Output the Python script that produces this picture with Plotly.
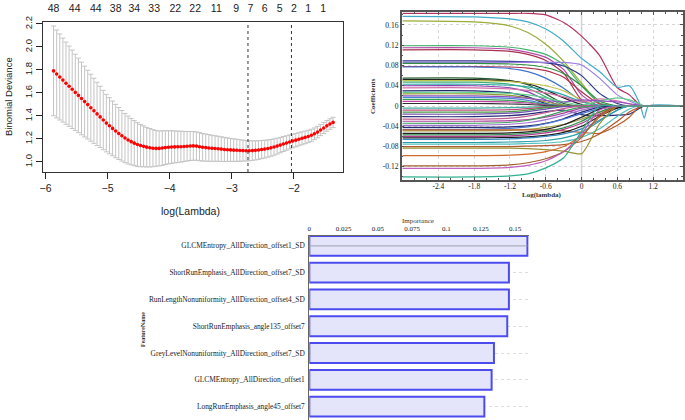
import plotly.graph_objects as go

W, H = 685, 420
def PX(x): return x / W
def PY(y): return 1 - y / H

# ---------------- Panel A: cross-validation curve ----------------
log_lambda = [-5.87,-5.82,-5.77,-5.72,-5.67,-5.62,-5.57,-5.52,-5.47,-5.42,
              -5.37,-5.32,-5.27,-5.22,-5.17,-5.12,-5.07,-5.02,-4.97,-4.92,
              -4.87,-4.82,-4.77,-4.72,-4.67,-4.62,-4.57,-4.52,-4.47,-4.42,
              -4.37,-4.32,-4.27,-4.22,-4.17,-4.12,-4.07,-4.02,-3.97,-3.92,
              -3.87,-3.82,-3.77,-3.72,-3.67,-3.62,-3.57,-3.52,-3.47,-3.42,
              -3.37,-3.32,-3.27,-3.22,-3.17,-3.12,-3.07,-3.02,-2.97,-2.92,
              -2.87,-2.82,-2.77,-2.72,-2.67,-2.62,-2.57,-2.52,-2.47,-2.42,
              -2.37,-2.32,-2.27,-2.22,-2.17,-2.12,-2.07,-2.02,-1.97,-1.92,
              -1.87,-1.82,-1.77,-1.72,-1.67,-1.62,-1.57,-1.52,-1.47,-1.42,-1.37]
deviance = [1.792,1.765,1.739,1.712,1.685,1.659,1.632,1.605,1.579,1.552,
            1.525,1.499,1.472,1.445,1.418,1.392,1.365,1.338,1.315,1.292,
            1.269,1.248,1.228,1.208,1.191,1.177,1.164,1.152,1.143,1.136,
            1.129,1.124,1.120,1.118,1.118,1.121,1.125,1.128,1.130,1.131,
            1.132,1.133,1.135,1.137,1.139,1.140,1.138,1.133,1.128,1.125,
            1.122,1.119,1.117,1.115,1.112,1.109,1.107,1.105,1.103,1.102,
            1.100,1.099,1.098,1.098,1.099,1.101,1.104,1.108,1.112,1.117,
            1.123,1.130,1.138,1.147,1.156,1.165,1.174,1.182,1.190,1.198,
            1.206,1.214,1.222,1.232,1.245,1.260,1.278,1.296,1.314,1.330,1.344]
dev_se = [0.390,0.382,0.374,0.365,0.357,0.349,0.341,0.332,0.324,0.316,
          0.308,0.299,0.291,0.283,0.275,0.266,0.258,0.250,0.244,0.238,
          0.232,0.226,0.220,0.214,0.208,0.202,0.196,0.190,0.184,0.178,
          0.172,0.167,0.161,0.155,0.152,0.150,0.147,0.144,0.142,0.139,
          0.136,0.134,0.131,0.128,0.126,0.125,0.123,0.122,0.120,0.118,
          0.116,0.113,0.111,0.109,0.107,0.105,0.102,0.100,0.098,0.096,
          0.094,0.091,0.089,0.087,0.085,0.083,0.081,0.079,0.077,0.075,
          0.073,0.071,0.069,0.067,0.065,0.063,0.061,0.059,0.058,0.057,
          0.056,0.055,0.054,0.053,0.051,0.050,0.049,0.048,0.047,0.046,0.045]
count_pos = [-5.87,-5.53,-5.19,-4.87,-4.57,-4.25,-3.91,-3.59,-3.25,-2.93,
             -2.70,-2.47,-2.23,-2.00,-1.77,-1.53]
count_txt = ["48","44","44","38","34","33","22","22","11","9","7","6","5","2","1","1"]
lambda_min = -2.74
lambda_1se = -2.04

# ---------------- Panel B: coefficient paths ----------------
coef_x = [-3.0,-1.8,-1.2,-0.9,-0.6,-0.3,0.0,0.3,0.6,0.8,0.98,1.05,1.12,1.7]
coef_pos = [
    [0.183,0.183,0.183,0.183,0.180,0.165,0.138,0.100,0.036,0.022,0.002,0,0,0],
    [0.177,0.176,0.172,0.166,0.152,0.128,0.094,0.068,0.037,0.040,0.003,-0.024,0,0],
    [0.168,0.166,0.158,0.145,0.122,0.088,0.045,0.005,0,0,0,0,0,0],
    [0.119,0.119,0.116,0.111,0.102,0.082,0.040,0.006,0,0,0,0,0,0],
    [0.115,0.115,0.112,0.106,0.096,0.072,0.022,0,0,0,0,0,0,0],
    [0.111,0.111,0.108,0.102,0.090,0.065,0.012,0,0,0,0,0,0,0],
    [0.089,0.089,0.088,0.087,0.085,0.079,0.060,0.025,0.005,0,0,0,0,0],
    [0.086,0.086,0.086,0.086,0.086,0.086,0.081,0.055,0.022,0.010,0.002,0,0,0],
    [0.084,0.084,0.083,0.081,0.076,0.064,0.040,0.010,0,0,0,0,0,0],
    [0.078,0.078,0.077,0.075,0.070,0.057,0.028,0.004,0,0,0,0,0,0],
    [0.077,0.077,0.074,0.068,0.055,0.035,0.010,0,0,0,0,0,0,0],
    [0.055,0.055,0.050,0.042,0.024,0.005,0,0,0,0,0,0,0,0],
    [0.052,0.052,0.049,0.044,0.032,0.016,0.003,0,0,0,0,0,0,0],
    [0.050,0.050,0.048,0.045,0.040,0.030,0.012,0,0,0,0,0,0,0],
    [0.047,0.047,0.043,0.035,0.018,0.002,0,0,0,0,0,0,0,0],
    [0.043,0.043,0.041,0.038,0.032,0.022,0.008,0.002,0,0,0,0,0,0],
    [0.040,0.040,0.036,0.028,0.012,0,0,0,0,0,0,0,0,0],
    [0.036,0.036,0.034,0.031,0.026,0.018,0.008,0.014,0.010,0.004,0,0,0,0],
    [0.030,0.030,0.026,0.018,0.005,0,0,0,0,0,0,0,0,0],
    [0.027,0.027,0.025,0.022,0.016,0.008,0.002,0.010,0.016,0.012,0.004,0,0,0],
    [0.024,0.024,0.021,0.016,0.008,0.002,0,0,0,0,0,0,0,0],
    [0.020,0.020,0.018,0.015,0.011,0.008,0.012,0.010,0.008,0.005,0.001,0,0,0],
    [0.017,0.017,0.015,0.011,0.004,0,0,0,0,0,0,0,0,0],
    [0.013,0.013,0.011,0.008,0.003,0,0,0,0,0,0,0,0,0],
    [0.009,0.009,0.008,0.006,0.002,0,0,0,0,0,0,0,0,0],
    [0.005,0.005,0.004,0.003,0.001,0,0,0,0,0,0,0,0,0],
]
coef_neg = [
    [-0.004,-0.004,-0.003,-0.002,-0.001,0,0,0,0,0,0,0,0,0],
    [-0.008,-0.008,-0.007,-0.005,-0.002,0,0,0,0,0,0,0,0,0],
    [-0.012,-0.012,-0.011,-0.008,-0.003,0,0,0,0,0,0,0,0,0],
    [-0.016,-0.016,-0.014,-0.011,-0.006,-0.001,0,0,0,0,0,0,0,0],
    [-0.021,-0.021,-0.019,-0.016,-0.011,-0.008,-0.017,-0.019,-0.018,-0.016,-0.004,0,0,0],
    [-0.026,-0.026,-0.024,-0.020,-0.013,-0.005,0,0,0,0,0,0,0,0],
    [-0.030,-0.030,-0.029,-0.027,-0.022,-0.014,-0.004,0,0,0,0,0,0,0],
    [-0.034,-0.034,-0.032,-0.028,-0.020,-0.010,-0.002,0,0,0,0,0,0,0],
    [-0.038,-0.038,-0.036,-0.033,-0.027,-0.018,-0.008,0,0,0,0,0,0,0],
    [-0.042,-0.042,-0.041,-0.039,-0.034,-0.025,-0.012,-0.002,0,0,0,0,0,0],
    [-0.046,-0.046,-0.044,-0.041,-0.035,-0.026,-0.015,-0.005,0,0,0,0,0,0],
    [-0.049,-0.049,-0.048,-0.046,-0.042,-0.036,-0.026,-0.012,-0.002,0,0,0,0,0],
    [-0.047,-0.047,-0.047,-0.047,-0.047,-0.049,-0.052,-0.054,-0.038,-0.022,0,0,0,0],
    [-0.054,-0.054,-0.053,-0.051,-0.046,-0.037,-0.022,-0.006,0,0,0,0,0,0],
    [-0.057,-0.057,-0.056,-0.054,-0.050,-0.043,-0.030,-0.012,0,0,0,0,0,0],
    [-0.060,-0.060,-0.059,-0.057,-0.053,-0.046,-0.034,-0.016,-0.003,0,0,0,0,0],
    [-0.063,-0.063,-0.062,-0.061,-0.058,-0.052,-0.040,-0.020,-0.004,0,0,0,0,0],
    [-0.066,-0.066,-0.065,-0.063,-0.060,-0.055,-0.045,-0.028,-0.008,0,0,0,0,0],
    [-0.072,-0.072,-0.071,-0.070,-0.068,-0.063,-0.052,-0.030,-0.008,0,0,0,0,0],
    [-0.075,-0.075,-0.075,-0.074,-0.073,-0.070,-0.062,-0.045,-0.020,-0.006,0,0,0,0],
    [-0.080,-0.080,-0.080,-0.079,-0.078,-0.076,-0.070,-0.055,-0.030,-0.012,-0.002,0,0,0],
    [-0.083,-0.083,-0.083,-0.084,-0.086,-0.089,-0.094,-0.035,0,0,0,0,0,0],
    [-0.098,-0.098,-0.097,-0.095,-0.090,-0.080,-0.058,-0.022,0,0,0,0,0,0],
    [-0.118,-0.118,-0.116,-0.112,-0.104,-0.090,-0.062,-0.018,0,0,0,0,0,0],
    [-0.123,-0.123,-0.121,-0.117,-0.108,-0.090,-0.055,-0.008,0,0,0,0,0,0],
    [-0.140,-0.140,-0.138,-0.134,-0.122,-0.102,-0.050,0,0,0,0,0,0,0],
]
pos_colors = ["#b5305f","#3fa9c9","#9bab35","#45b26b","#b548a8","#a8324f","#2e3590",
              "#9d7fe0","#2f8f3f","#b0304f","#3f74d0","#1f5a2a","#222222","#c3c44a",
              "#3fb07a","#2fa6a6","#8a3fb0","#d66fa8","#232870","#5fd08a","#8f9a30",
              "#9050c0","#4a80d8","#30a050","#c040a0","#303030"]
neg_colors = ["#40b0a0","#c05080","#4a9a40","#7050b0","#282c78","#c06090","#b040a0",
              "#40a060","#a070d0","#262a70","#4a78d0","#a0a040","#c05a28","#202020",
              "#2f8f4f","#b03a90","#1a1a1a","#3a88c0","#2aa0a8","#50c0c0","#b0582f",
              "#9a9030","#d06a30","#a06030","#c060c0","#30b090"]

# ---------------- Panel C: feature importance ----------------
features = ["GLCMEntropy_AllDirection_offset1_SD",
            "ShortRunEmphasis_AllDirection_offset7_SD",
            "RunLengthNonuniformity_AllDirection_offset4_SD",
            "ShortRunEmphasis_angle135_offset7",
            "GreyLevelNonuniformity_AllDirection_offset7_SD",
            "GLCMEntropy_AllDirection_offset1",
            "LongRunEmphasis_angle45_offset7"]
importance = [0.159, 0.1455, 0.1455, 0.1443, 0.1346, 0.1329, 0.1276]
imp_ticks = [0, 0.025, 0.05, 0.075, 0.1, 0.125, 0.15]
imp_ticktext = ["0", "0.025", "0.05", "0.075", "0.1", "0.125", "0.15"]

SANS = "Liberation Sans, Arial, sans-serif"
SERIF = "Liberation Serif, Times New Roman, serif"

fig = go.Figure()

# Panel A traces
fig.add_trace(go.Scatter(
    x=log_lambda, y=deviance, mode="markers",
    marker=dict(color="#ff0000", size=3.6, line=dict(width=0)),
    error_y=dict(type="data", array=dev_se, color="#c4c4c4", thickness=1, width=2.5),
    xaxis="x", yaxis="y", showlegend=False, hoverinfo="skip"))
# invisible trace to activate the top count axis
fig.add_trace(go.Scatter(x=count_pos, y=deviance[:len(count_pos)], mode="markers",
                         marker=dict(opacity=0), xaxis="x2", yaxis="y",
                         showlegend=False, hoverinfo="skip"))

# Panel B traces
for vals, col in zip(coef_pos + coef_neg, pos_colors + neg_colors):
    fig.add_trace(go.Scatter(
        x=coef_x, y=vals, mode="lines",
        line=dict(color=col, width=1.2, shape="spline", smoothing=0.6),
        xaxis="x3", yaxis="y3", showlegend=False, hoverinfo="skip"))

# Panel C traces
cat_idx = list(range(len(features)))
fig.add_trace(go.Bar(
    x=importance, y=cat_idx, orientation="h", width=0.74,
    marker=dict(color="#e4e4fb", line=dict(color="#4b4bef", width=2)),
    xaxis="x4", yaxis="y4", showlegend=False, hoverinfo="skip"))

axA_x = [43, 343]
axA_y = [22, 172]
axB_x = [401.7, 683]
axB_y = [12.3, 180]
axC_x = [309.3, 528.8]
axC_y = [235.7, 420]

fig.update_layout(
    width=W, height=H, margin=dict(l=0, r=0, t=0, b=0, autoexpand=False),
    paper_bgcolor="white", plot_bgcolor="white",
    xaxis=dict(domain=[PX(axA_x[0]), PX(axA_x[1])], anchor="y", automargin=False,
               range=[-6.04, -1.21], tickvals=[-6, -5, -4, -3, -2],
               ticks="outside", ticklen=6, tickcolor="#222",
               showline=True, linecolor="#333", linewidth=1, mirror=True,
               showgrid=False, zeroline=False,
               tickfont=dict(family=SANS, size=10.5, color="#222")),
    xaxis2=dict(overlaying="x", anchor="y", side="top", automargin=False,
                range=[-6.04, -1.21], tickvals=count_pos, ticktext=count_txt,
                ticks="", showline=False, showgrid=False, zeroline=False,
                ticklabelstandoff=7,
                tickfont=dict(family=SANS, size=10.5, color="#222")),
    yaxis=dict(domain=[PY(axA_y[1]), PY(axA_y[0])], anchor="x", automargin=False,
               range=[0.913, 2.217], tickvals=[1.0, 1.2, 1.4, 1.6, 1.8, 2.0, 2.2],
               ticktext=["1.0", "1.2", "1.4", "1.6", "1.8", "2.0", "2.2"],
               tickangle=-90, ticks="outside", ticklen=6, tickcolor="#222",
               showline=True, linecolor="#333", linewidth=1, mirror=True,
               showgrid=False, zeroline=False,
               tickfont=dict(family=SANS, size=9.5, color="#222")),
    xaxis3=dict(domain=[PX(axB_x[0]), PX(axB_x[1])], anchor="y3", automargin=False,
                range=[-3.015, 1.70], tickvals=[-2.4, -1.8, -1.2, -0.6, 0, 0.6, 1.2],
                ticktext=["-2.4", "-1.8", "-1.2", "-0.6", "0", "0.6", "1.2"],
                ticks="inside", ticklen=3, tickcolor="#555",
                showline=True, linecolor="#555", linewidth=1.5, mirror="allticks",
                showgrid=True, gridcolor="#d6d6d6", griddash="dot", gridwidth=1,
                zeroline=False, ticklabelstandoff=-2,
                minor=dict(dtick=0.2, tick0=0, ticks="inside", ticklen=2,
                           tickcolor="#555", showgrid=False),
                tickfont=dict(family=SERIF, size=7.5, color="#222")),
    yaxis3=dict(domain=[PY(axB_y[1]), PY(axB_y[0])], anchor="x3", automargin=False,
                range=[-0.146, 0.185],
                tickvals=[-0.12, -0.08, -0.04, 0, 0.04, 0.08, 0.12, 0.16],
                ticktext=["-0.12", "-0.08", "-0.04", "0", "0.04", "0.08", "0.12", "0.16"],
                ticks="inside", ticklen=3, tickcolor="#555",
                showline=True, linecolor="#555", linewidth=1.5, mirror="allticks",
                showgrid=True, gridcolor="#d6d6d6", griddash="dot", gridwidth=1,
                zeroline=False,
                minor=dict(dtick=0.02, tick0=0, ticks="inside", ticklen=2,
                           tickcolor="#555", showgrid=False),
                tickfont=dict(family=SERIF, size=7.5, color="#222")),
    xaxis4=dict(domain=[PX(axC_x[0]), PX(axC_x[1])], anchor="y4", side="top",
                automargin=False,
                range=[0, 0.16], tickvals=imp_ticks, ticktext=imp_ticktext,
                ticks="", showline=True, linecolor="#666", linewidth=1,
                showgrid=False, zeroline=False, ticklabelstandoff=1,
                tickfont=dict(family=SERIF, size=7, color="#222")),
    yaxis4=dict(domain=[0, PY(axC_y[0])], anchor="x4", automargin=False,
                range=[6.5, -0.38], tickvals=cat_idx, ticktext=features,
                ticks="", showline=True, linecolor="#666", linewidth=1,
                showgrid=True, gridcolor="#dcdcdc", griddash="dot",
                zeroline=False, ticklabelstandoff=2,
                tickfont=dict(family=SERIF, size=7.4, color="#222")),
)

# vertical reference lines (lambda.min, lambda.1se)
for xv in [lambda_min, lambda_1se]:
    fig.add_shape(type="line", xref="x", yref="y domain", x0=xv, x1=xv, y0=0, y1=1,
                  line=dict(color="#333", width=1, dash="dot"))
# x = 0 reference line in coefficient plot
fig.add_shape(type="line", xref="x3", yref="y3 domain", x0=0, x1=0, y0=0, y1=1,
              line=dict(color="#d0d0d0", width=1.5), layer="below")
# line through first bar
fig.add_shape(type="line", xref="x4", yref="y4", x0=0, x1=importance[0], y0=0, y1=0,
              line=dict(color="#a0a0b0", width=1))

ann = [
    dict(text="log(Lambda)", x=PX(190), y=PY(211), font=dict(family=SANS, size=10.5, color="#222")),
    dict(text="Binomial Deviance", x=PX(8), y=PY(97), textangle=-90,
         font=dict(family=SANS, size=9.5, color="#222")),
    dict(text="<b>Coefficients</b>", x=PX(373), y=PY(96), textangle=-90,
         font=dict(family=SERIF, size=7, color="#333")),
    dict(text="<b>Log(lambda)</b>", x=PX(542), y=PY(195),
         font=dict(family=SERIF, size=7, color="#333")),
    dict(text="Importance", x=PX(418), y=PY(221),
         font=dict(family=SERIF, size=7, color="#333")),
    dict(text="<b>FeatureName</b>", x=PX(143), y=PY(330), textangle=-90,
         font=dict(family=SERIF, size=6, color="#333")),
]
for a in ann:
    fig.add_annotation(xref="paper", yref="paper", showarrow=False,
                       xanchor="center", yanchor="middle", **a)

fig.write_html("out.html", config={"displayModeBar": False},
               post_script="document.body.style.margin='0';document.body.style.overflow='hidden';")
